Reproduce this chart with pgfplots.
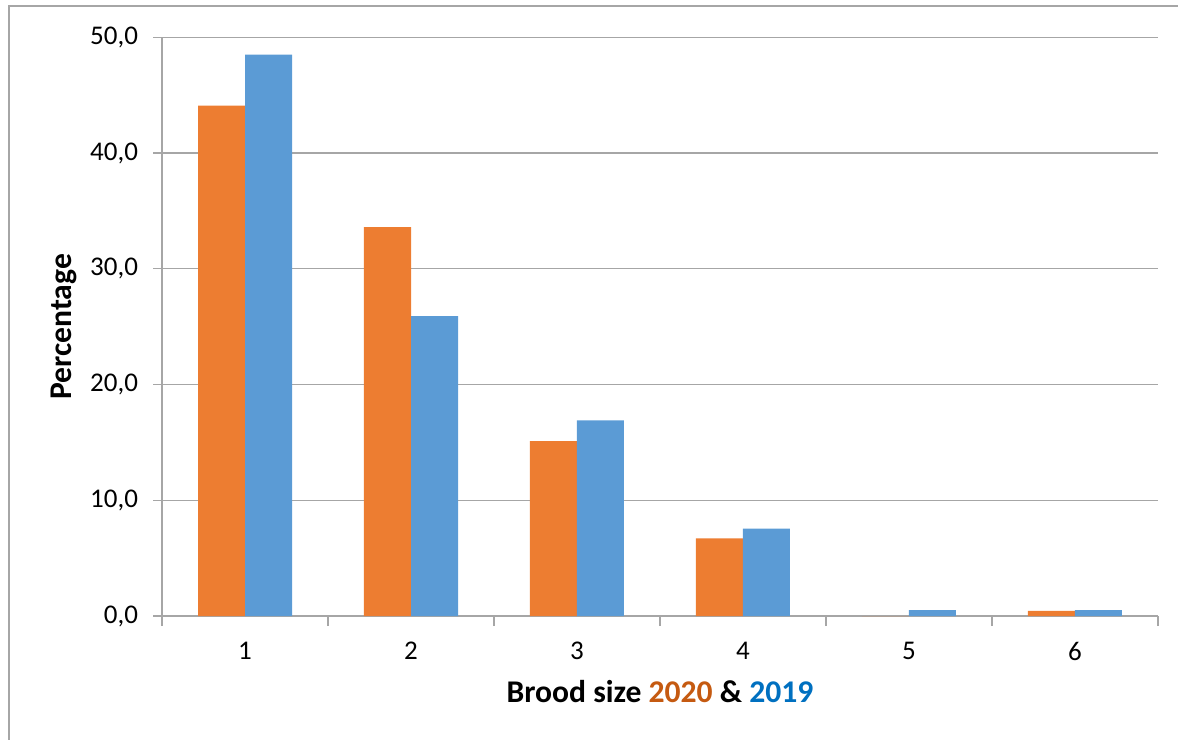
\documentclass[border=0pt]{standalone}
\usepackage{pgfplots}
\pgfplotsset{compat=1.18}
\usepackage{fontspec}
\setmainfont{Carlito}
\definecolor{bar2020}{HTML}{ED7D31}
\definecolor{bar2019}{HTML}{5B9BD5}
\definecolor{txt2020}{HTML}{C55A11}
\definecolor{txt2019}{HTML}{0070C0}
\definecolor{gridc}{HTML}{A6A6A6}
\begin{document}
\begin{tikzpicture}
\useasboundingbox (0pt,0pt) rectangle (589pt,-369.5pt);
\draw[gridc, line width=0.6pt] (4.5pt,-400pt) -- (4.5pt,-3pt) -- (700pt,-3pt);
\begin{axis}[
  at={(81pt,-308pt)}, anchor=south west,
  scale only axis, width=498pt, height=289.35pt,
  ybar=0pt, bar width=23.5pt,
  xmin=0.5, xmax=6.5, ymin=0, ymax=50,
  axis x line*=bottom, axis y line*=left,
  axis line style={gridc, line width=0.7pt, -},
  xtick={1,2,3,4,5,6},
  xticklabels={1,2,3,4,5,6},
  major x tick style={draw=none},
  minor xtick={0.5,1.5,2.5,3.5,4.5,5.5,6.5},
  minor x tick style={gridc, line width=0.7pt},
  minor tick length=5pt,
  ytick={0,10,20,30,40,50},
  major y tick style={gridc, line width=0.7pt},
  major tick length=4.5pt,
  tick align=outside,
  ymajorgrids,
  grid style={gridc, line width=0.7pt},
  tick label style={font=\fontsize{13.5}{15}\selectfont, text=black},
  /pgf/number format/assume math mode=true,
  yticklabel style={xshift=-4pt, /pgf/number format/.cd, fixed, fixed zerofill, precision=1, use comma},
  xticklabel style={yshift=-5pt},
  xlabel={\textbf{Brood size \textcolor{txt2020}{2020} \& \textcolor{txt2019}{2019}}},
  ylabel={\textbf{Percentage}},
  label style={font=\fontsize{15.8}{18}\selectfont},
  xlabel style={yshift=-3pt},
]
\addplot[fill=bar2020, draw=none] coordinates {(1,44.1) (2,33.6) (3,15.1) (4,6.7) (5,0) (6,0.45)};
\addplot[fill=bar2019, draw=none] coordinates {(1,48.5) (2,25.9) (3,16.9) (4,7.55) (5,0.5) (6,0.5)};
\end{axis}
\end{tikzpicture}
\end{document}
